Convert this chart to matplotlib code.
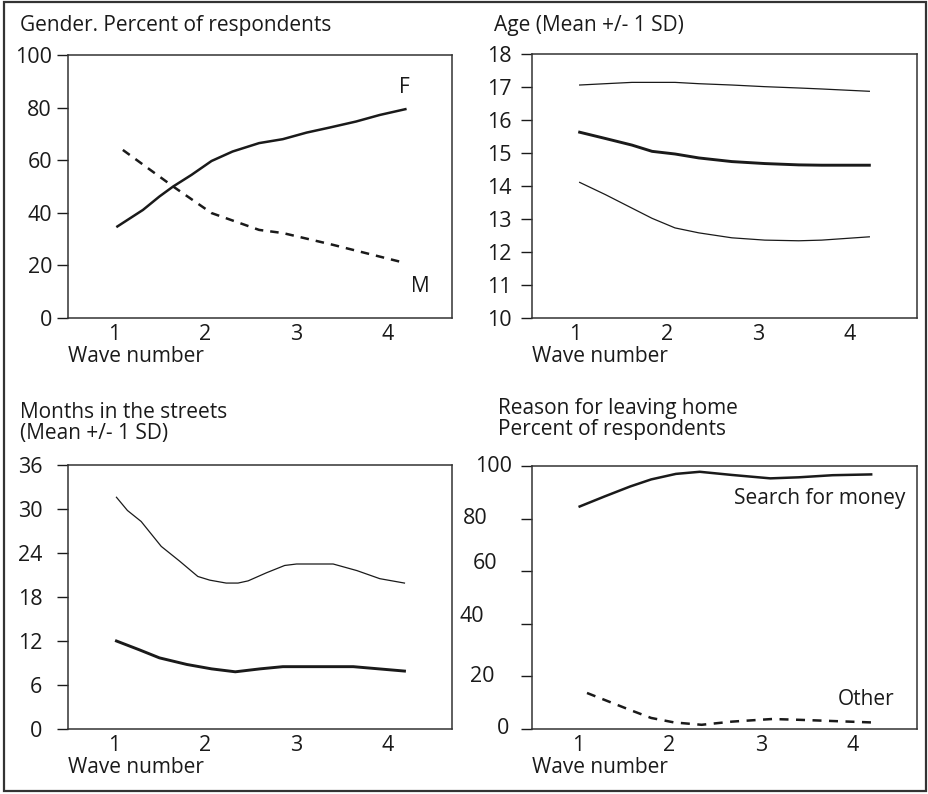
import matplotlib
matplotlib.use("Agg")
import matplotlib.pyplot as plt
import matplotlib.transforms as mtransforms
from matplotlib.patches import Rectangle

plt.rcParams['font.family'] = ['Open Sans', 'DejaVu Sans']

INK = '#1a1a1a'

# ---- Gender (percent of respondents) ----
gender_f_x = [1.04, 1.32, 1.50, 1.65, 1.85, 2.07, 2.30, 2.59, 2.85, 3.11, 3.36, 3.65, 3.91, 4.19]
gender_f_y = [34.8, 41.1, 46.2, 50.0, 54.4, 59.7, 63.3, 66.5, 68.0, 70.5, 72.4, 74.7, 77.2, 79.4]
gender_m_x = [1.10, 1.65, 2.07, 2.59, 2.85, 3.40, 4.19]
gender_m_y = [63.9, 50.0, 39.9, 33.5, 32.3, 27.8, 20.9]
gender_ticks = [0, 20, 40, 60, 80, 100]

# ---- Age (mean +/- 1 SD) ----
age_x = [1.05, 1.33, 1.62, 1.84, 2.09, 2.35, 2.71, 3.07, 3.44, 3.69, 4.21]
age_upper = [17.06, 17.10, 17.14, 17.14, 17.14, 17.10, 17.06, 17.01, 16.97, 16.94, 16.87]
age_mean = [15.63, 15.44, 15.24, 15.05, 14.97, 14.85, 14.74, 14.68, 14.64, 14.63, 14.63]
age_lower = [14.11, 13.74, 13.33, 13.02, 12.73, 12.58, 12.43, 12.36, 12.34, 12.36, 12.46]
age_ticks = [10, 11, 12, 13, 14, 15, 16, 17, 18]

# ---- Months in the streets (mean +/- 1 SD) ----
months_upper_x = [1.03, 1.15, 1.30, 1.52, 1.72, 1.92, 2.05, 2.23, 2.36, 2.47, 2.67, 2.87, 3.00, 3.40, 3.66, 3.91, 4.18]
months_upper_y = [31.6, 29.8, 28.3, 24.9, 22.9, 20.8, 20.3, 19.9, 19.9, 20.2, 21.3, 22.3, 22.5, 22.5, 21.6, 20.5, 19.9]
months_mean_x = [1.03, 1.28, 1.50, 1.80, 2.07, 2.33, 2.60, 2.85, 3.62, 4.18]
months_mean_y = [12.0, 10.8, 9.7, 8.8, 8.2, 7.8, 8.2, 8.5, 8.5, 7.9]
months_ticks = [0, 6, 12, 18, 24, 30, 36]

# ---- Reason for leaving home (percent of respondents) ----
money_x = [1.02, 1.29, 1.57, 1.80, 2.07, 2.33, 2.68, 3.10, 3.41, 3.78, 4.20]
money_y = [84.6, 88.4, 92.2, 94.9, 97.0, 97.8, 96.6, 95.3, 95.7, 96.5, 96.8]
other_x = [1.10, 1.58, 1.80, 2.05, 2.35, 2.68, 3.12, 3.41, 4.20]
other_y = [13.7, 7.1, 4.2, 2.5, 1.6, 2.8, 3.8, 3.5, 2.5]
reason_ticks = [0, 20, 40, 60, 80, 100]
# hand-set label nudges (pixels: right, up) for the reason axis
reason_label_shift = {0: (-3, 0), 20: (-17, 0), 40: (-28, 7), 60: (-15, 8), 80: (-24, 0), 100: (0, 0)}

wave_ticks = [1, 2, 3, 4]

TICK_FS = 15.5
TEXT_FS = 15

W, H = 929, 794
fig = plt.figure(figsize=(W / 100, H / 100), dpi=100)

# outer frame
fig.patches.append(Rectangle((4 / W, 1 - 791 / H), (926 - 4) / W, (791 - 2) / H,
                             transform=fig.transFigure, fill=False,
                             edgecolor='#333333', linewidth=1.6))


def make_axes(l, t, r, b):
    return fig.add_axes([l / W, 1 - b / H, (r - l) / W, (b - t) / H])


def style(ax, ylim, yticks, ypad, xlim=(0.5, 4.7)):
    ax.set_xlim(*xlim)
    ax.set_ylim(*ylim)
    ax.set_xticks(wave_ticks)
    ax.set_yticks(yticks)
    ax.tick_params(axis='x', length=0, pad=4, labelsize=TICK_FS, colors=INK)
    ax.tick_params(axis='y', length=8, width=1, pad=ypad, labelsize=TICK_FS,
                   colors=INK, direction='out')
    for s in ax.spines.values():
        s.set_linewidth(1.1)
        s.set_color('#333333')
    ax.set_xlabel('Wave number', loc='left', fontsize=TEXT_FS, color=INK, labelpad=1)


title_kw = dict(fontsize=TEXT_FS, color=INK, ha='left', va='center', linespacing=1.0)

# Panel 1: gender
ax1 = make_axes(68, 55, 452, 318)
style(ax1, (0, 100), gender_ticks, 3.5)
ax1.plot(gender_f_x, gender_f_y, color=INK, lw=1.8, solid_joinstyle='round')
ax1.plot(gender_m_x, gender_m_y, color=INK, lw=1.8, dashes=(3.4, 2.8))
ax1.text(4.18, 87.7, 'F', fontsize=TEXT_FS, color=INK, ha='center', va='center')
ax1.text(4.35, 12, 'M', fontsize=TEXT_FS, color=INK, ha='center', va='center')
fig.text(20 / W, 1 - 25 / H, 'Gender. Percent of respondents', **title_kw)

# Panel 2: age
ax2 = make_axes(532, 54, 917, 318)
style(ax2, (10, 18), age_ticks, 6.5, xlim=(0.53, 4.73))
ax2.plot(age_x, age_upper, color=INK, lw=0.9)
ax2.plot(age_x, age_mean, color=INK, lw=2.1)
ax2.plot(age_x, age_lower, color=INK, lw=0.9)
fig.text(494 / W, 1 - 25 / H, 'Age (Mean +/- 1 SD)', **title_kw)

# Panel 3: months in the streets
ax3 = make_axes(68, 465, 452, 729)
style(ax3, (0, 36), months_ticks, 10.5)
ax3.plot(months_upper_x, months_upper_y, color=INK, lw=0.9)
ax3.plot(months_mean_x, months_mean_y, color=INK, lw=2.1)
fig.text(20 / W, 1 - 423 / H, 'Months in the streets\n(Mean +/- 1 SD)', **title_kw)

# Panel 4: reason for leaving home
ax4 = make_axes(532, 466, 917, 729)
style(ax4, (0, 100), reason_ticks, 10)
ax4.set_yticklabels([])
ylab_tr = mtransforms.blended_transform_factory(ax4.transAxes, ax4.transData)
for v in reason_ticks:
    dx, dy = reason_label_shift[v]
    off = mtransforms.ScaledTranslation((dx - 20) / 100, dy / 100, fig.dpi_scale_trans)
    ax4.text(0, v, str(v), transform=ylab_tr + off, ha='right', va='center',
             fontsize=TICK_FS, color=INK, clip_on=False)
ax4.plot(money_x, money_y, color=INK, lw=1.8)
ax4.plot(other_x, other_y, color=INK, lw=1.8, dashes=(3.6, 3.0))
ax4.text(2.70, 87.7, 'Search for money', fontsize=TEXT_FS, color=INK, ha='left', va='center')
ax4.text(3.84, 11.1, 'Other', fontsize=TEXT_FS, color=INK, ha='left', va='center')
fig.text(498 / W, 1 - 419 / H, 'Reason for leaving home\nPercent of respondents', **title_kw)

fig.savefig('out.png', dpi=100)
